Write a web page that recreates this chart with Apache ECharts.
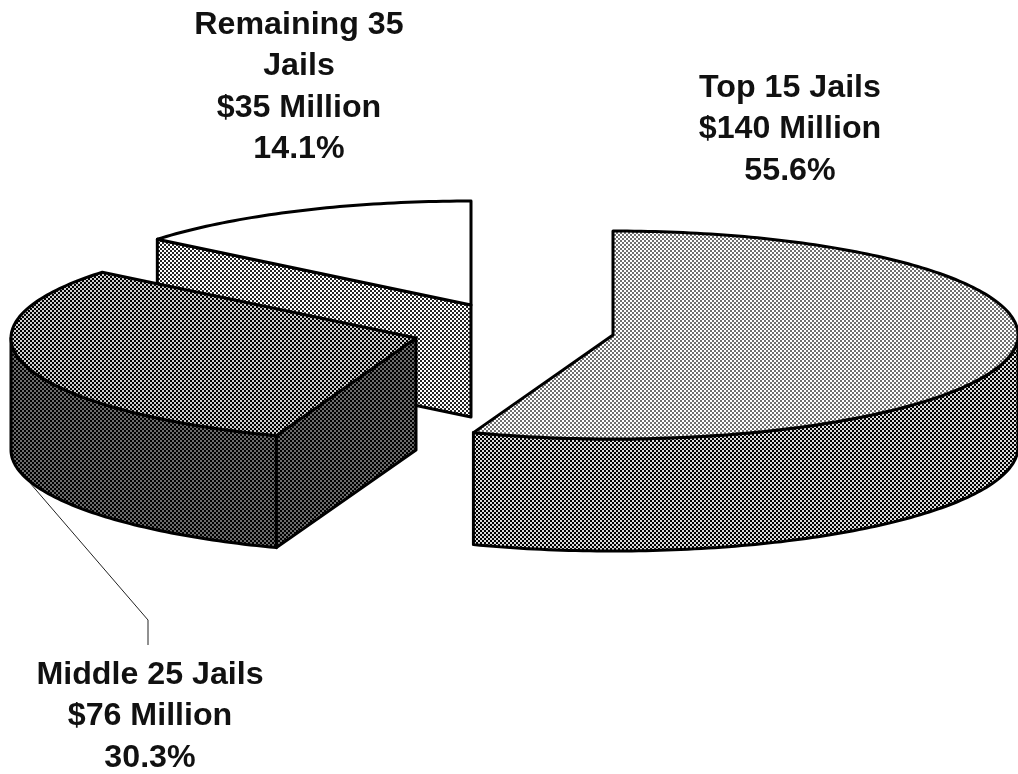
<!DOCTYPE html>
<html>
<head>
<meta charset="utf-8">
<style>html,body{margin:0;padding:0;background:#fff}#c{width:1018px;height:774px}</style>
<script src="https://cdn.jsdelivr.net/npm/echarts@6/dist/echarts.min.js"></script>
</head>
<body>
<div id="c"></div>
<script>
// ---- data ----
var categories = ['Top 15 Jails', 'Middle 25 Jails', 'Remaining 35\nJails'];
var amounts = [140, 76, 35];          // $ million
var percents = [55.6, 30.3, 14.1];    // share of the pie

// ---- layout and styling ----
var RX = 405, RY = 104, DEPTH = 112;
var apexes = [[613, 335], [416, 338], [471, 305]];
var labelAnchors = [[790, 67], [150, 654], [299, 4]];
var paintOrder = [1, 2, 0];           // remaining is behind, then top, then middle
var INK = '#000000', PAPER = '#ffffff';

function tile(bg, dot, size) {
  var c = document.createElement('canvas');
  c.width = c.height = 4;
  var g = c.getContext('2d');
  g.fillStyle = bg; g.fillRect(0, 0, 4, 4);
  g.fillStyle = dot;
  var o = (2 - size) / 2;
  g.fillRect(o, o, size, size);
  g.fillRect(2 + o, 2 + o, size, size);
  return { image: c, repeat: 'repeat' };
}
var topFills = [tile(PAPER, INK, 1.5), tile(INK, PAPER, 1.8), PAPER];
var rimFills = [tile(INK, PAPER, 1.85), tile(INK, PAPER, 1.3), null];
var cutFills = [null, tile(INK, PAPER, 1.3), tile(PAPER, INK, 1.85)];

var RAD = Math.PI / 180;
function startAngle(i) {
  var sum = 0;
  for (var k = 0; k < i; k++) sum += percents[k];
  return sum * 3.6;
}
function rimPoint(apex, deg, drop) {
  return [apex[0] + RX * Math.sin(deg * RAD),
          apex[1] - RY * Math.cos(deg * RAD) + (drop || 0)];
}
function arc(apex, a, b, drop) {
  var pts = [], n = Math.max(2, Math.ceil(Math.abs(b - a)));
  for (var k = 0; k <= n; k++) pts.push(rimPoint(apex, a + (b - a) * k / n, drop));
  return pts;
}
function face(points, fill, z2) {
  return {
    type: 'polygon', shape: { points: points }, z2: z2,
    style: { fill: fill, stroke: INK, lineWidth: 3, lineJoin: 'round' }
  };
}
function cutFace(apex, deg, fill, z2) {
  var e = rimPoint(apex, deg);
  return face([e, apex, [apex[0], apex[1] + DEPTH], [e[0], e[1] + DEPTH]], fill, z2);
}

function renderSlice(params) {
  var i = params.dataIndex;
  var apex = apexes[i];
  var a0 = startAngle(i), a1 = a0 + percents[i] * 3.6;
  var base = paintOrder[i] * 10;
  var kids = [];

  // outer rim: only the front half (90..270 degrees) shows
  var r0 = Math.max(a0, 90), r1 = Math.min(a1, 270);
  if (r1 > r0) {
    var topArc = arc(apex, r0, r1, 0);
    var botArc = arc(apex, r1, r0, DEPTH);
    kids.push(face(topArc.concat(botArc), rimFills[i], base + 1));
  }
  // cut faces that look towards the viewer
  if (Math.sin(a0 * RAD) < -1e-6) kids.push(cutFace(apex, a0, cutFills[i], base + 2));
  if (Math.sin(a1 * RAD) > 1e-6) kids.push(cutFace(apex, a1, cutFills[i], base + 2));
  // top face
  kids.push(face([apex].concat(arc(apex, a0, a1, 0)), topFills[i], base + 3));

  // text
  kids.push({
    type: 'text', z2: 100,
    style: {
      x: labelAnchors[i][0], y: labelAnchors[i][1],
      text: categories[i] + '\n$' + amounts[i] + ' Million\n' + percents[i].toFixed(1) + '%',
      fill: '#111111', align: 'center', verticalAlign: 'top',
      fontFamily: '"Liberation Sans", Arial, sans-serif',
      fontWeight: 'bold', fontSize: 32.2, lineHeight: 41.5
    }
  });

  // leader line for the middle slice
  if (i === 1) {
    kids.push({
      type: 'polyline', z2: 50,
      shape: { points: [[30, 483], [148, 620], [148, 645]] },
      style: { fill: null, stroke: '#222222', lineWidth: 1 }
    });
  }
  return { type: 'group', children: kids };
}

var chart = echarts.init(document.getElementById('c'), null, { renderer: 'canvas' });
chart.setOption({
  animation: false,
  backgroundColor: '#ffffff',
  series: [{
    type: 'custom',
    coordinateSystem: 'none',
    renderItem: renderSlice,
    data: percents,
    silent: true
  }]
});
</script>
</body>
</html>
